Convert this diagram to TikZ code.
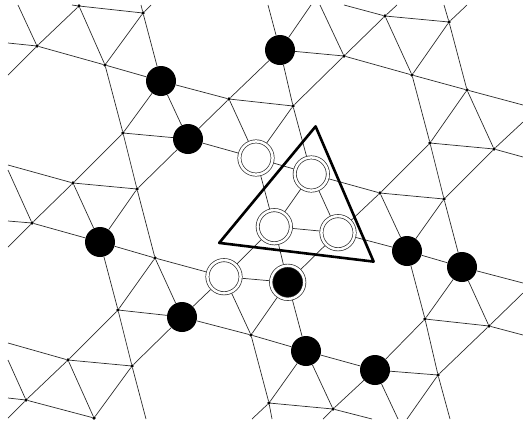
\documentclass[tikz,border=0pt]{standalone}
\definecolor{edgecol}{HTML}{2A2A2A}
\tikzset{
  x=1bp,y=-1bp,
  edge/.style={draw=edgecol,line width=0.7bp},
  dot/.style={circle,fill=black,draw=none,inner sep=0pt,minimum size=3.8bp},
  solid disc/.style={circle,fill=black,draw=none,inner sep=0pt,minimum size=30bp},
  ring/.style={circle,draw=edgecol,line width=0.7bp,double=white,double distance=2.5bp,fill=white,inner sep=0pt,minimum size=33.2bp,outer sep=1.9bp},
  ring disc/.style={ring,fill=black},
  tri/.style={draw=black,line width=2.6bp,line join=round}
}
\begin{document}
\begin{tikzpicture}
\useasboundingbox (0,0) rectangle (523,421);
% free ends of connectors at the picture border
\foreach \n/\x/\y in {f1/72/5,f2/141/5,f3/151/5,f4/18/5,f5/8/75,f6/8/43,f7/8/165,f8/8/170,f9/8/221,f10/8/247,
  f11/268/5,f12/311/5,f13/320/5,f14/344/5,f15/397/5,f16/444/5,f17/467/5,f18/523/105,f19/523/157,f20/523/122,
  f21/8/343,f22/8/398,f23/8/360,f24/8/418,f25/146/419,f26/252/419,f27/272/419,f28/372/419,f29/323/419,f30/398/419,
  f31/523/283,f32/523/293,f33/523/335,f34/407/419,f35/450/419}
  {\coordinate (\n) at (\x,\y);}
% small vertices
\foreach \n/\x/\y in {a1/79/6,a2/143/13,a3/37/46,a4/105/65,a5/229/99,a6/123/133,a7/73/183,a8/137/189,
  b1/344/56,b2/385/16,b3/449/22,b4/412/75,b5/467/90,b6/293/106,b7/430/143,b8/494/149,b9/380/193,b10/444/199,
  c1/32/223,c2/155/258,c3/118/310,c4/251/335,c5/68/360,c6/132/366,c7/26/400,c8/94/418,
  d1/425/319,d2/489/326,d3/438/375,d4/269/403,d5/333/409}
  {\node[dot] (\n) at (\x,\y) {};}
% black discs
\foreach \n/\x/\y in {B1/161/81,B2/188/139,B3/280/50,B4/100/242,B5/182/317,B6/407/251,B7/462/267,B9/306/351,B10/375/370}
  {\node[solid disc] (\n) at (\x,\y) {};}
% ringed vertices
\foreach \n/\x/\y in {W1/256/158,W2/311.3/174,W3/224/276.7,W4/274.3/226.7,W5/338/232.7}
  {\node[ring] (\n) at (\x,\y) {};}
\node[ring disc] (B8) at (287.7,282.3) {};
% connectors
\foreach \p/\q in {a1/f1,a1/a2,a2/f2,a2/f3,a3/f4,a3/f5,a3/f6,a3/a1,a3/a4,a4/a1,a4/a2,a4/B1,a2/B1,a4/a6,
  B1/a6,B1/B2,B1/a5,a5/B2,a6/B2,a6/a8,a6/a7,B2/a8,B2/W1,a5/W1,a5/b6,a5/B3,
  a7/f7,a7/a8,a7/c1,a7/B4,a8/c2,a8/B4,c1/f8,c1/f9,c1/f10,c1/B4,
  B3/f11,B3/f12,B3/b1,B3/b6,b1/f13,b1/b2,b1/b4,b1/b6,b2/f14,b2/f15,b2/b3,b2/b4,b3/f16,b3/f17,b3/b4,b3/b5,
  b4/b5,b4/b7,b5/b7,b5/b8,b5/f18,b7/b8,b7/b9,b7/b10,b8/b10,b8/f19,b8/f20,
  b6/W2,b6/W1,W1/W2,b9/W2,b9/b10,b9/W5,b9/B6,b10/B7,b10/B6,W2/W5,W2/W4,W1/W4,W4/W5,W4/B8,W5/B8,W5/B6,W4/W3,
  c2/W3,W3/B8,W3/c4,W3/B5,B8/c4,B8/B9,c4/B9,c4/d4,
  B4/c2,B4/c3,c2/c3,c2/B5,c3/B5,c3/c5,c3/c6,B5/c6,B5/c4,c5/c6,c5/f21,c5/c7,c5/c8,c6/c8,c6/f25,
  c7/f22,c7/f23,c7/f24,c7/c8,
  B9/d4,d4/d5,B9/d5,B9/B10,d4/f26,d4/f27,d5/f28,d5/f29,B10/d5,B10/d3,B10/d1,B10/f30,
  B6/B7,B6/d1,B7/d1,B7/d2,B7/f31,d1/d2,d1/d3,d2/d3,d2/f32,d2/f33,d3/f34,d3/f35}
  {\draw[edge] (\p) -- (\q);}
% thick triangle
\coordinate (t1) at (315.6,126.4);
\coordinate (t2) at (219.2,242.9);
\coordinate (t3) at (373.6,261.6);
\draw[tri] (t1) -- (t2) -- (t3) -- cycle;
\end{tikzpicture}
\end{document}
